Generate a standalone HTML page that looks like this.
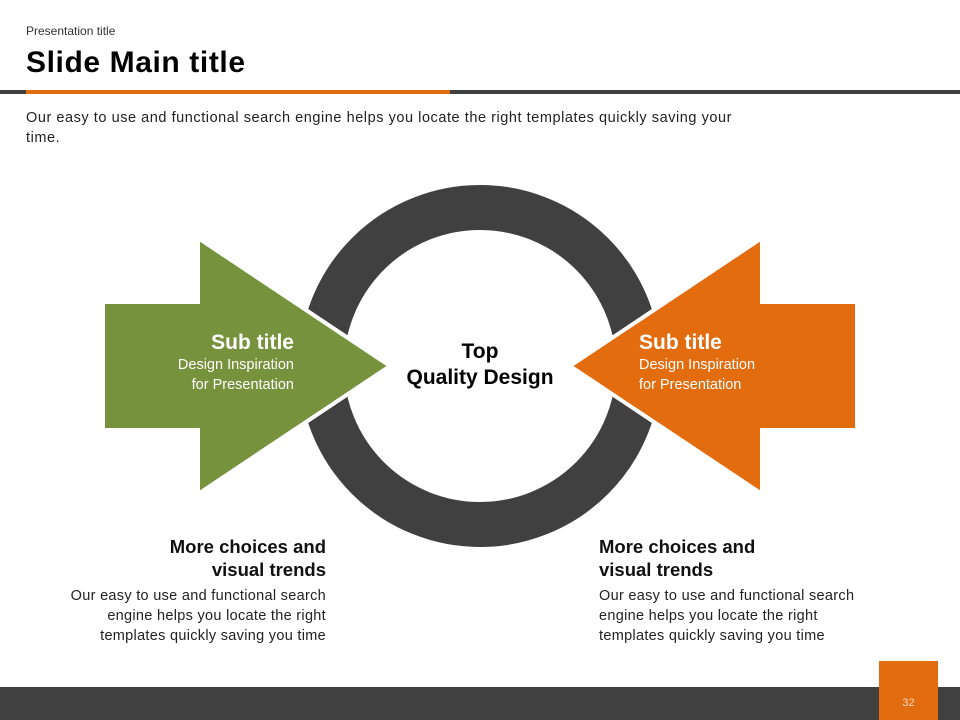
<!DOCTYPE html>
<html><head><meta charset="utf-8"><style>
body{margin:0;width:960px;height:720px;position:relative;overflow:hidden;background:#fff;font-family:"Liberation Sans",sans-serif;color:#111}
.a{position:absolute}
</style></head><body>
<div class="a" style="left:26px;top:24px;font-size:12px;color:#333">Presentation title</div>
<div class="a" style="left:26px;top:46px;font-size:30px;font-weight:bold;color:#000;letter-spacing:0.6px">Slide Main title</div>
<div class="a" style="left:0;top:90px;width:960px;height:4px;background:#404040"></div>
<div class="a" style="left:26px;top:90px;width:424px;height:4px;background:#e06c0e"></div>
<div class="a" style="left:26px;top:108px;width:800px;font-size:14.5px;line-height:20px;color:#222;letter-spacing:0.55px">Our easy to use and functional search engine helps you locate the right templates quickly saving your<br>time.</div>
<svg class="a" style="left:0;top:0" width="960" height="720">
<circle cx="480" cy="366" r="158.5" fill="none" stroke="#404040" stroke-width="45"/>
<polygon points="103,302 198,302 198,238 390,366 198,494 198,430 103,430" fill="#76923c" stroke="#fff" stroke-width="4"/>
<polygon points="857,302 762,302 762,238 570,366 762,494 762,430 857,430" fill="#e36c0e" stroke="#fff" stroke-width="4"/>
</svg>
<div class="a" style="left:120px;top:331px;width:174px;text-align:right;color:#fff"><div style="font-size:21px;font-weight:bold">Sub title</div><div style="font-size:14.5px;line-height:20px">Design Inspiration<br>for Presentation</div></div>
<div class="a" style="left:639px;top:331px;width:180px;color:#fff"><div style="font-size:21px;font-weight:bold">Sub title</div><div style="font-size:14.5px;line-height:20px">Design Inspiration<br>for Presentation</div></div>
<div class="a" style="left:370px;top:339px;width:220px;text-align:center;font-size:21px;font-weight:bold;line-height:26px;color:#000">Top<br>Quality Design</div>
<div class="a" style="left:6px;top:535px;width:320px;text-align:right"><div style="font-size:18.5px;font-weight:bold;line-height:23px">More choices and<br>visual trends</div><div style="font-size:14.5px;line-height:20px;margin-top:5px;color:#222;letter-spacing:0.3px">Our easy to use and functional search<br>engine helps you locate the right<br>templates quickly saving you time</div></div>
<div class="a" style="left:599px;top:535px;width:320px"><div style="font-size:18.5px;font-weight:bold;line-height:23px">More choices and<br>visual trends</div><div style="font-size:14.5px;line-height:20px;margin-top:5px;color:#222;letter-spacing:0.3px">Our easy to use and functional search<br>engine helps you locate the right<br>templates quickly saving you time</div></div>
<div class="a" style="left:0;top:687px;width:960px;height:33px;background:#404040"></div>
<div class="a" style="left:879px;top:661px;width:59px;height:59px;background:#e36c0e"></div>
<div class="a" style="left:879px;top:697px;width:59px;text-align:center;font-size:11px;color:#f3d9c4">32</div>
</body></html>
